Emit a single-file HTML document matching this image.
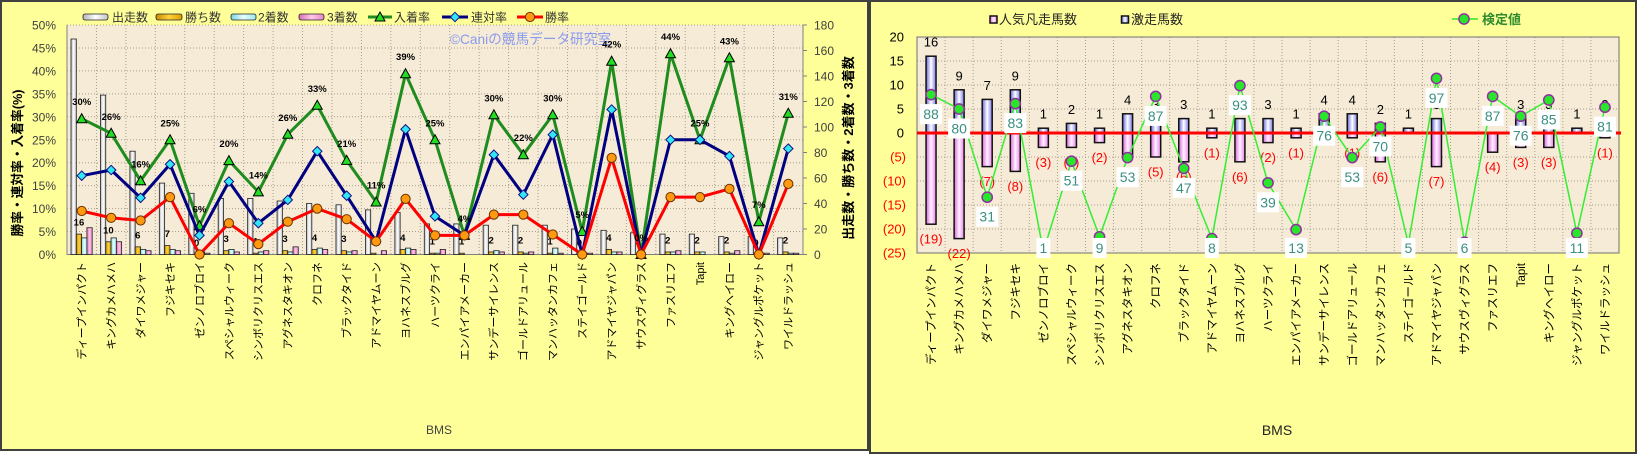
<!DOCTYPE html>
<html><head><meta charset="utf-8">
<style>
html,body{margin:0;padding:0;background:#fff;}
svg{display:block;}
text{font-family:"Liberation Sans","Noto Sans CJK JP",sans-serif;}
.yl{font-size:12px;fill:#404040;text-anchor:end;}
.yr{font-size:12px;fill:#404040;text-anchor:start;}
.lg{font-size:12px;fill:#333;}
.xl{font-size:11px;fill:#000;text-anchor:end;}
.xr{font-size:11.5px;fill:#000;text-anchor:end;}
.pl{font-size:9.5px;font-weight:bold;fill:#000;text-anchor:middle;}
.wl{font-size:9.5px;font-weight:bold;fill:#000;text-anchor:middle;}
.bw{fill:url(#gW);stroke:#222;stroke-width:.8;}
.bg{fill:url(#gG);stroke:#222;stroke-width:.8;}
.bc{fill:url(#gC);stroke:#222;stroke-width:.8;}
.bp{fill:url(#gP);stroke:#222;stroke-width:.8;}
.rb{fill:url(#gB);stroke:#111;stroke-width:1.5;}
.rm{fill:url(#gM);stroke:#111;stroke-width:1.5;}
.ry{font-size:13px;fill:#000;text-anchor:end;}
.rn{font-size:13px;fill:#ff0000;text-anchor:end;}
.pv{font-size:13px;fill:#000;text-anchor:middle;}
.nv{font-size:13px;fill:#ff0000;text-anchor:middle;}
.kb{fill:#fff;}
.kt{font-size:14px;fill:#3a8f80;text-anchor:middle;}
</style></head>
<body>
<svg width="1640" height="455" viewBox="0 0 1640 455" xmlns="http://www.w3.org/2000/svg">
<defs>
<linearGradient id="gW" x1="0" x2="1" y1="0" y2="0"><stop offset="0" stop-color="#b4b4b4"/><stop offset=".5" stop-color="#ffffff"/><stop offset="1" stop-color="#c4c4c4"/></linearGradient>
<linearGradient id="gG" x1="0" x2="1" y1="0" y2="0"><stop offset="0" stop-color="#c88a00"/><stop offset=".5" stop-color="#ffd23c"/><stop offset="1" stop-color="#dc9e00"/></linearGradient>
<linearGradient id="gC" x1="0" x2="1" y1="0" y2="0"><stop offset="0" stop-color="#78d4de"/><stop offset=".5" stop-color="#e8ffff"/><stop offset="1" stop-color="#98e6ee"/></linearGradient>
<linearGradient id="gP" x1="0" x2="1" y1="0" y2="0"><stop offset="0" stop-color="#dc6cb4"/><stop offset=".5" stop-color="#ffc8e8"/><stop offset="1" stop-color="#e886c6"/></linearGradient>
<linearGradient id="gB" x1="0" x2="1" y1="0" y2="0"><stop offset="0" stop-color="#6666dd"/><stop offset=".5" stop-color="#ffffff"/><stop offset="1" stop-color="#7878e6"/></linearGradient>
<linearGradient id="gM" x1="0" x2="1" y1="0" y2="0"><stop offset="0" stop-color="#dd66dd"/><stop offset=".5" stop-color="#fff0ff"/><stop offset="1" stop-color="#e888e8"/></linearGradient>
<marker id="mt" viewBox="0 0 12 12" refX="6" refY="6.5" markerWidth="12" markerHeight="12" markerUnits="userSpaceOnUse"><path d="M6,1.5 L11,10.5 L1,10.5Z" fill="#22dd22" stroke="#000" stroke-width="1"/></marker>
<marker id="md" viewBox="0 0 12 12" refX="6" refY="6" markerWidth="12" markerHeight="12" markerUnits="userSpaceOnUse"><path d="M6,1.3 L10.7,6 L6,10.7 L1.3,6Z" fill="#33e6f5" stroke="#101080" stroke-width="1"/></marker>
<marker id="mc" viewBox="0 0 12 12" refX="6" refY="6" markerWidth="12" markerHeight="12" markerUnits="userSpaceOnUse"><circle cx="6" cy="6" r="4.6" fill="#ff9a10" stroke="#6b3000" stroke-width="1"/></marker>
<marker id="mg" viewBox="0 0 14 14" refX="7" refY="7" markerWidth="14" markerHeight="14" markerUnits="userSpaceOnUse"><circle cx="7" cy="7" r="5.1" fill="#2ae62a" stroke="#9030a0" stroke-width="1.5"/></marker>
</defs>

<!-- ================= LEFT CHART ================= -->
<rect x="1" y="1" width="867" height="449" fill="#ffff99" stroke="#404040" stroke-width="2"/>

<!-- legend -->
<rect x="83" y="14" width="25" height="6" rx="2" class="bw" stroke-width="1"/>
<text x="112" y="21.5" class="lg">出走数</text>
<rect x="156" y="14" width="26" height="6" rx="2" class="bg"/>
<text x="185" y="21.5" class="lg">勝ち数</text>
<rect x="231" y="14" width="25" height="6" rx="2" class="bc"/>
<text x="258" y="21.5" class="lg">2着数</text>
<rect x="299" y="14" width="25" height="6" rx="2" class="bp"/>
<text x="327" y="21.5" class="lg">3着数</text>
<polyline points="368,17 380,17 392,17" fill="none" stroke="#1e8c1e" stroke-width="3" marker-mid="url(#mt)"/>
<text x="394" y="21.5" class="lg">入着率</text>
<polyline points="442,17 455,17 468,17" fill="none" stroke="#000080" stroke-width="3" marker-mid="url(#md)"/>
<text x="471" y="21.5" class="lg">連対率</text>
<polyline points="517,17 530,17 543,17" fill="none" stroke="#ff0000" stroke-width="3" marker-mid="url(#mc)"/>
<text x="545" y="21.5" class="lg">勝率</text>

<!-- plot area -->
<rect x="67" y="25" width="736" height="229.5" fill="#f5ebd6"/>
<path d="M96.44 25V254.5M125.88 25V254.5M155.32 25V254.5M184.76 25V254.5M214.2 25V254.5M243.64 25V254.5M273.08 25V254.5M302.52 25V254.5M331.96 25V254.5M361.4 25V254.5M390.84 25V254.5M420.28 25V254.5M449.72 25V254.5M479.16 25V254.5M508.6 25V254.5M538.04 25V254.5M567.48 25V254.5M596.92 25V254.5M626.36 25V254.5M655.8 25V254.5M685.24 25V254.5M714.68 25V254.5M744.12 25V254.5M773.56 25V254.5M67 25H803M67 47.95H803M67 70.9H803M67 93.85H803M67 116.8H803M67 139.75H803M67 162.7H803M67 185.65H803M67 208.6H803M67 231.55H803" stroke="#a89e8c" stroke-width="1" stroke-dasharray="1,2" fill="none"/>
<text x="450" y="44" font-size="14" fill="#8a9aee" textLength="161" lengthAdjust="spacingAndGlyphs">©Caniの競馬データ研究室</text>
<path d="M67 25V254.5H803V25M803 25h4M803 50.5h4M803 76h4M803 101.5h4M803 127h4M803 152.5h4M803 178h4M803 203.5h4M803 229h4M803 254.5h4" stroke="#808080" stroke-width="1" fill="none"/>

<!-- left y labels -->
<text x="56" y="29.5" class="yl">50%</text>
<text x="56" y="52.45" class="yl">45%</text>
<text x="56" y="75.4" class="yl">40%</text>
<text x="56" y="98.35" class="yl">35%</text>
<text x="56" y="121.3" class="yl">30%</text>
<text x="56" y="144.25" class="yl">25%</text>
<text x="56" y="167.2" class="yl">20%</text>
<text x="56" y="190.15" class="yl">15%</text>
<text x="56" y="213.1" class="yl">10%</text>
<text x="56" y="236.05" class="yl">5%</text>
<text x="56" y="259" class="yl">0%</text>
<!-- right y labels -->
<text x="814" y="29.5" class="yr">180</text>
<text x="814" y="55" class="yr">160</text>
<text x="814" y="80.5" class="yr">140</text>
<text x="814" y="106" class="yr">120</text>
<text x="814" y="131.5" class="yr">100</text>
<text x="814" y="157" class="yr">80</text>
<text x="814" y="182.5" class="yr">60</text>
<text x="814" y="208" class="yr">40</text>
<text x="814" y="233.5" class="yr">20</text>
<text x="814" y="259" class="yr">0</text>

<text transform="translate(22,163) rotate(-90)" text-anchor="middle" font-size="13" font-weight="bold" fill="#000" textLength="147" lengthAdjust="spacingAndGlyphs">勝率・連対率・入着率(%)</text>
<text transform="translate(853,148) rotate(-90)" text-anchor="middle" font-size="13" font-weight="bold" fill="#000">出走数・勝ち数・2着数・3着数</text>
<text x="439" y="434" font-size="12" fill="#444" text-anchor="middle">BMS</text>

<!-- bars -->
<g>
<rect x="71" y="39" width="5.3" height="215.5" class="bw"/><rect x="76.3" y="234.1" width="5.3" height="20.4" class="bg"/><rect x="81.6" y="237.9" width="5.3" height="16.6" class="bc"/><rect x="86.9" y="227.7" width="5.3" height="26.8" class="bp"/>
<rect x="100.44" y="95.1" width="5.3" height="159.4" class="bw"/><rect x="105.74" y="241.75" width="5.3" height="12.75" class="bg"/><rect x="111.04" y="237.9" width="5.3" height="16.6" class="bc"/><rect x="116.34" y="241.75" width="5.3" height="12.75" class="bp"/>
<rect x="129.88" y="151.2" width="5.3" height="103.3" class="bw"/><rect x="135.18" y="246.85" width="5.3" height="7.65" class="bg"/><rect x="140.48" y="249.4" width="5.3" height="5.1" class="bc"/><rect x="145.78" y="250.7" width="5.3" height="3.8" class="bp"/>
<rect x="159.32" y="183.1" width="5.3" height="71.4" class="bw"/><rect x="164.62" y="245.6" width="5.3" height="8.9" class="bg"/><rect x="169.92" y="249.4" width="5.3" height="5.1" class="bc"/><rect x="175.22" y="250.7" width="5.3" height="3.8" class="bp"/>
<rect x="188.76" y="193.3" width="5.3" height="61.2" class="bw"/><rect x="199.36" y="251.95" width="5.3" height="2.55" class="bc"/><rect x="204.66" y="253.2" width="5.3" height="1.3" class="bp"/>
<rect x="218.2" y="198.4" width="5.3" height="56.1" class="bw"/><rect x="223.5" y="250.7" width="5.3" height="3.8" class="bg"/><rect x="228.8" y="249.4" width="5.3" height="5.1" class="bc"/><rect x="234.1" y="251.95" width="5.3" height="2.55" class="bp"/>
<rect x="247.64" y="198.4" width="5.3" height="56.1" class="bw"/><rect x="252.94" y="253.2" width="5.3" height="1.3" class="bg"/><rect x="258.24" y="251.95" width="5.3" height="2.55" class="bc"/><rect x="263.54" y="250.7" width="5.3" height="3.8" class="bp"/>
<rect x="277.08" y="201" width="5.3" height="53.5" class="bw"/><rect x="282.38" y="250.7" width="5.3" height="3.8" class="bg"/><rect x="287.68" y="251.95" width="5.3" height="2.55" class="bc"/><rect x="292.98" y="246.85" width="5.3" height="7.65" class="bp"/>
<rect x="306.52" y="203.5" width="5.3" height="51" class="bw"/><rect x="311.82" y="249.4" width="5.3" height="5.1" class="bg"/><rect x="317.12" y="248.1" width="5.3" height="6.4" class="bc"/><rect x="322.42" y="249.4" width="5.3" height="5.1" class="bp"/>
<rect x="335.96" y="204.8" width="5.3" height="49.7" class="bw"/><rect x="341.26" y="250.7" width="5.3" height="3.8" class="bg"/><rect x="346.56" y="251.95" width="5.3" height="2.55" class="bc"/><rect x="351.86" y="250.7" width="5.3" height="3.8" class="bp"/>
<rect x="365.4" y="209.9" width="5.3" height="44.6" class="bw"/><rect x="370.7" y="253.2" width="5.3" height="1.3" class="bg"/><rect x="381.3" y="250.7" width="5.3" height="3.8" class="bp"/>
<rect x="394.84" y="212.4" width="5.3" height="42.1" class="bw"/><rect x="400.14" y="249.4" width="5.3" height="5.1" class="bg"/><rect x="405.44" y="248.1" width="5.3" height="6.4" class="bc"/><rect x="410.74" y="249.4" width="5.3" height="5.1" class="bp"/>
<rect x="424.28" y="223.9" width="5.3" height="30.6" class="bw"/><rect x="429.58" y="253.2" width="5.3" height="1.3" class="bg"/><rect x="434.88" y="253.2" width="5.3" height="1.3" class="bc"/><rect x="440.18" y="249.4" width="5.3" height="5.1" class="bp"/>
<rect x="453.72" y="223.9" width="5.3" height="30.6" class="bw"/><rect x="459.02" y="253.2" width="5.3" height="1.3" class="bg"/>
<rect x="483.16" y="225.2" width="5.3" height="29.3" class="bw"/><rect x="488.46" y="251.95" width="5.3" height="2.55" class="bg"/><rect x="493.76" y="250.7" width="5.3" height="3.8" class="bc"/><rect x="499.06" y="251.95" width="5.3" height="2.55" class="bp"/>
<rect x="512.6" y="225.2" width="5.3" height="29.3" class="bw"/><rect x="517.9" y="251.95" width="5.3" height="2.55" class="bg"/><rect x="523.2" y="253.2" width="5.3" height="1.3" class="bc"/><rect x="528.5" y="251.95" width="5.3" height="2.55" class="bp"/>
<rect x="542.04" y="225.2" width="5.3" height="29.3" class="bw"/><rect x="547.34" y="253.2" width="5.3" height="1.3" class="bg"/><rect x="552.64" y="248.1" width="5.3" height="6.4" class="bc"/><rect x="557.94" y="253.2" width="5.3" height="1.3" class="bp"/>
<rect x="571.48" y="229" width="5.3" height="25.5" class="bw"/><rect x="587.38" y="253.2" width="5.3" height="1.3" class="bp"/>
<rect x="600.92" y="230.3" width="5.3" height="24.2" class="bw"/><rect x="606.22" y="249.4" width="5.3" height="5.1" class="bg"/><rect x="611.52" y="251.95" width="5.3" height="2.55" class="bc"/><rect x="616.82" y="251.95" width="5.3" height="2.55" class="bp"/>
<rect x="630.36" y="232.8" width="5.3" height="21.7" class="bw"/>
<rect x="659.8" y="234.1" width="5.3" height="20.4" class="bw"/><rect x="665.1" y="251.95" width="5.3" height="2.55" class="bg"/><rect x="670.4" y="251.95" width="5.3" height="2.55" class="bc"/><rect x="675.7" y="250.7" width="5.3" height="3.8" class="bp"/>
<rect x="689.24" y="234.1" width="5.3" height="20.4" class="bw"/><rect x="694.54" y="251.95" width="5.3" height="2.55" class="bg"/><rect x="699.84" y="251.95" width="5.3" height="2.55" class="bc"/>
<rect x="718.68" y="236.65" width="5.3" height="17.85" class="bw"/><rect x="723.98" y="251.95" width="5.3" height="2.55" class="bg"/><rect x="729.28" y="253.2" width="5.3" height="1.3" class="bc"/><rect x="734.58" y="250.7" width="5.3" height="3.8" class="bp"/>
<rect x="748.12" y="236.65" width="5.3" height="17.85" class="bw"/><rect x="764.02" y="253.2" width="5.3" height="1.3" class="bp"/>
<rect x="777.56" y="237.9" width="5.3" height="16.6" class="bw"/><rect x="782.86" y="251.95" width="5.3" height="2.55" class="bg"/><rect x="788.16" y="253.2" width="5.3" height="1.3" class="bc"/><rect x="793.46" y="253.2" width="5.3" height="1.3" class="bp"/>
</g>

<!-- win-count labels -->
<g class="wl">
<text x="78.95" y="225.6" class="wl">16</text><text x="108.39" y="233.25" class="wl">10</text><text x="137.83" y="238.35" class="wl">6</text><text x="167.27" y="237.1" class="wl">7</text><text x="196.71" y="246" class="wl">0</text><text x="226.15" y="242.2" class="wl">3</text><text x="255.59" y="244.7" class="wl">1</text><text x="285.03" y="242.2" class="wl">3</text><text x="314.47" y="240.9" class="wl">4</text><text x="343.91" y="242.2" class="wl">3</text><text x="373.35" y="244.7" class="wl">1</text><text x="402.79" y="240.9" class="wl">4</text><text x="432.23" y="244.7" class="wl">1</text><text x="461.67" y="244.7" class="wl">1</text><text x="491.11" y="243.45" class="wl">2</text><text x="520.55" y="243.45" class="wl">2</text><text x="549.99" y="244.7" class="wl">1</text><text x="579.43" y="246" class="wl">0</text><text x="608.87" y="240.9" class="wl">4</text><text x="638.31" y="246" class="wl">0</text><text x="667.75" y="243.45" class="wl">2</text><text x="697.19" y="243.45" class="wl">2</text><text x="726.63" y="243.45" class="wl">2</text><text x="756.07" y="246" class="wl">0</text><text x="785.51" y="243.45" class="wl">2</text>
</g>

<!-- lines -->
<polyline fill="none" stroke="#1e8c1e" stroke-width="3" stroke-linejoin="round" marker-start="url(#mt)" marker-mid="url(#mt)" marker-end="url(#mt)" points="81.72,118.7 111.16,133.3 140.6,180.8 170.04,139.8 199.48,225.8 228.92,160.6 258.36,191.9 287.8,134.3 317.24,105.3 346.68,160.4 376.12,202 405.56,73.7 435,139.8 464.44,235.4 493.88,114.8 523.32,154.7 552.76,114.8 582.2,231.55 611.64,61.2 641.08,254.5 670.52,53.7 699.96,139.8 729.4,57.8 758.84,221.7 788.28,113.3"/>
<polyline fill="none" stroke="#000080" stroke-width="3" stroke-linejoin="round" marker-start="url(#md)" marker-mid="url(#md)" marker-end="url(#md)" points="81.72,175.7 111.16,170 140.6,197.8 170.04,164.3 199.48,235.4 228.92,181.5 258.36,223.2 287.8,199.9 317.24,151.2 346.68,195.7 376.12,241.4 405.56,129.3 435,216.3 464.44,235.4 493.88,154.7 523.32,194.6 552.76,134.7 582.2,254.5 611.64,109.5 641.08,254.5 670.52,139.8 699.96,139.8 729.4,156.1 758.84,254.5 788.28,148.6"/>
<polyline fill="none" stroke="#ff0000" stroke-width="3" stroke-linejoin="round" marker-start="url(#mc)" marker-mid="url(#mc)" marker-end="url(#mc)" points="81.72,211 111.16,217.8 140.6,220.5 170.04,197.1 199.48,254.5 228.92,223.2 258.36,244.1 287.8,221.7 317.24,208.6 346.68,219.2 376.12,241.4 405.56,198.9 435,235.4 464.44,235.4 493.88,214.6 523.32,214.6 552.76,234.5 582.2,254.5 611.64,157.9 641.08,254.5 670.52,197.1 699.96,197.1 729.4,188.9 758.84,254.5 788.28,183.9"/>

<!-- percent labels -->
<g>
<text x="81.72" y="105.2" class="pl">30%</text><text x="111.16" y="119.8" class="pl">26%</text><text x="140.6" y="167.3" class="pl">16%</text><text x="170.04" y="126.3" class="pl">25%</text><text x="199.48" y="212.3" class="pl">6%</text><text x="228.92" y="147.1" class="pl">20%</text><text x="258.36" y="178.4" class="pl">14%</text><text x="287.8" y="120.8" class="pl">26%</text><text x="317.24" y="91.8" class="pl">33%</text><text x="346.68" y="146.9" class="pl">21%</text><text x="376.12" y="188.5" class="pl">11%</text><text x="405.56" y="60.2" class="pl">39%</text><text x="435" y="126.3" class="pl">25%</text><text x="464.44" y="221.9" class="pl">4%</text><text x="493.88" y="101.3" class="pl">30%</text><text x="523.32" y="141.2" class="pl">22%</text><text x="552.76" y="101.3" class="pl">30%</text><text x="582.2" y="218.05" class="pl">5%</text><text x="611.64" y="47.7" class="pl">42%</text><text x="641.08" y="241" class="pl">0%</text><text x="670.52" y="40.2" class="pl">44%</text><text x="699.96" y="126.3" class="pl">25%</text><text x="729.4" y="44.3" class="pl">43%</text><text x="758.84" y="208.2" class="pl">7%</text><text x="788.28" y="99.8" class="pl">31%</text>
</g>

<!-- x labels left -->
<g>
<text transform="translate(81.72,262) rotate(-90)" dy="0.35em" class="xl">ディープインパクト</text>
<text transform="translate(111.16,262) rotate(-90)" dy="0.35em" class="xl">キングカメハメハ</text>
<text transform="translate(140.6,262) rotate(-90)" dy="0.35em" class="xl">ダイワメジャー</text>
<text transform="translate(170.04,262) rotate(-90)" dy="0.35em" class="xl">フジキセキ</text>
<text transform="translate(199.48,262) rotate(-90)" dy="0.35em" class="xl">ゼンノロブロイ</text>
<text transform="translate(228.92,262) rotate(-90)" dy="0.35em" class="xl">スペシャルウィーク</text>
<text transform="translate(258.36,262) rotate(-90)" dy="0.35em" class="xl">シンボリクリスエス</text>
<text transform="translate(287.8,262) rotate(-90)" dy="0.35em" class="xl">アグネスタキオン</text>
<text transform="translate(317.24,262) rotate(-90)" dy="0.35em" class="xl">クロフネ</text>
<text transform="translate(346.68,262) rotate(-90)" dy="0.35em" class="xl">ブラックタイド</text>
<text transform="translate(376.12,262) rotate(-90)" dy="0.35em" class="xl">アドマイヤムーン</text>
<text transform="translate(405.56,262) rotate(-90)" dy="0.35em" class="xl">ヨハネスブルグ</text>
<text transform="translate(435,262) rotate(-90)" dy="0.35em" class="xl">ハーツクライ</text>
<text transform="translate(464.44,262) rotate(-90)" dy="0.35em" class="xl">エンパイアメーカー</text>
<text transform="translate(493.88,262) rotate(-90)" dy="0.35em" class="xl">サンデーサイレンス</text>
<text transform="translate(523.32,262) rotate(-90)" dy="0.35em" class="xl">ゴールドアリュール</text>
<text transform="translate(552.76,262) rotate(-90)" dy="0.35em" class="xl">マンハッタンカフェ</text>
<text transform="translate(582.2,262) rotate(-90)" dy="0.35em" class="xl">ステイゴールド</text>
<text transform="translate(611.64,262) rotate(-90)" dy="0.35em" class="xl">アドマイヤジャパン</text>
<text transform="translate(641.08,262) rotate(-90)" dy="0.35em" class="xl">サウスヴィグラス</text>
<text transform="translate(670.52,262) rotate(-90)" dy="0.35em" class="xl">ファスリエフ</text>
<text transform="translate(699.96,262) rotate(-90)" dy="0.35em" class="xl">Tapit</text>
<text transform="translate(729.4,262) rotate(-90)" dy="0.35em" class="xl">キングヘイロー</text>
<text transform="translate(758.84,262) rotate(-90)" dy="0.35em" class="xl">ジャングルポケット</text>
<text transform="translate(788.28,262) rotate(-90)" dy="0.35em" class="xl">ワイルドラッシュ</text>
</g>

<!-- ================= RIGHT CHART ================= -->
<rect x="870" y="1" width="766" height="452" fill="#ffff99" stroke="#404040" stroke-width="2"/>

<!-- legend -->
<rect x="990" y="16" width="7" height="7" class="rm" stroke-width="1"/>
<text x="999" y="24" font-size="13" fill="#222">人気凡走馬数</text>
<rect x="1121.5" y="16" width="7" height="7" class="rb" stroke-width="1"/>
<text x="1131" y="24" font-size="13" fill="#222">激走馬数</text>
<polyline points="1452,19 1464,19 1478,19" fill="none" stroke="#2ae62a" stroke-width="1.5" marker-mid="url(#mg)"/>
<text x="1482" y="24" font-size="13" font-weight="bold" fill="#2e8b2e">検定値</text>

<!-- plot -->
<rect x="917" y="37" width="702" height="216" fill="#f5ebd6"/>
<path d="M945.08 37V253M973.16 37V253M1001.24 37V253M1029.32 37V253M1057.4 37V253M1085.48 37V253M1113.56 37V253M1141.64 37V253M1169.72 37V253M1197.8 37V253M1225.88 37V253M1253.96 37V253M1282.04 37V253M1310.12 37V253M1338.2 37V253M1366.28 37V253M1394.36 37V253M1422.44 37V253M1450.52 37V253M1478.6 37V253M1506.68 37V253M1534.76 37V253M1562.84 37V253M1590.92 37V253M917 61H1619M917 85H1619M917 109H1619M917 157H1619M917 181H1619M917 205H1619M917 229H1619" stroke="#a89e8c" stroke-width="1" stroke-dasharray="1,2" fill="none"/>
<rect x="917" y="37" width="702" height="216" fill="none" stroke="#707070" stroke-width="1"/>

<!-- y labels -->
<text x="904" y="41.5" class="ry">20</text>
<text x="904" y="65.5" class="ry">15</text>
<text x="904" y="89.5" class="ry">10</text>
<text x="904" y="113.5" class="ry">5</text>
<text x="904" y="137.5" class="ry">0</text>
<text x="906" y="161.5" class="rn">(5)</text>
<text x="906" y="185.5" class="rn">(10)</text>
<text x="906" y="209.5" class="rn">(15)</text>
<text x="906" y="233.5" class="rn">(20)</text>
<text x="906" y="257.5" class="rn">(25)</text>

<!-- bars -->
<g>
<rect x="926.04" y="56.2" width="10" height="76.8" class="rb"/><rect x="926.04" y="133" width="10" height="91.2" class="rm"/>
<rect x="954.12" y="89.8" width="10" height="43.2" class="rb"/><rect x="954.12" y="133" width="10" height="105.6" class="rm"/>
<rect x="982.2" y="99.4" width="10" height="33.6" class="rb"/><rect x="982.2" y="133" width="10" height="33.6" class="rm"/>
<rect x="1010.28" y="89.8" width="10" height="43.2" class="rb"/><rect x="1010.28" y="133" width="10" height="38.4" class="rm"/>
<rect x="1038.36" y="128.2" width="10" height="4.8" class="rb"/><rect x="1038.36" y="133" width="10" height="14.4" class="rm"/>
<rect x="1066.44" y="123.4" width="10" height="9.6" class="rb"/><rect x="1066.44" y="133" width="10" height="14.4" class="rm"/>
<rect x="1094.52" y="128.2" width="10" height="4.8" class="rb"/><rect x="1094.52" y="133" width="10" height="9.6" class="rm"/>
<rect x="1122.6" y="113.8" width="10" height="19.2" class="rb"/><rect x="1122.6" y="133" width="10" height="24" class="rm"/>
<rect x="1150.68" y="118.6" width="10" height="14.4" class="rb"/><rect x="1150.68" y="133" width="10" height="24" class="rm"/>
<rect x="1178.76" y="118.6" width="10" height="14.4" class="rb"/><rect x="1178.76" y="133" width="10" height="28.8" class="rm"/>
<rect x="1206.84" y="128.2" width="10" height="4.8" class="rb"/><rect x="1206.84" y="133" width="10" height="4.8" class="rm"/>
<rect x="1234.92" y="118.6" width="10" height="14.4" class="rb"/><rect x="1234.92" y="133" width="10" height="28.8" class="rm"/>
<rect x="1263" y="118.6" width="10" height="14.4" class="rb"/><rect x="1263" y="133" width="10" height="9.6" class="rm"/>
<rect x="1291.08" y="128.2" width="10" height="4.8" class="rb"/><rect x="1291.08" y="133" width="10" height="4.8" class="rm"/>
<rect x="1319.16" y="113.8" width="10" height="19.2" class="rb"/>
<rect x="1347.24" y="113.8" width="10" height="19.2" class="rb"/><rect x="1347.24" y="133" width="10" height="4.8" class="rm"/>
<rect x="1375.32" y="123.4" width="10" height="9.6" class="rb"/><rect x="1375.32" y="133" width="10" height="28.8" class="rm"/>
<rect x="1403.4" y="128.2" width="10" height="4.8" class="rb"/>
<rect x="1431.48" y="118.6" width="10" height="14.4" class="rb"/><rect x="1431.48" y="133" width="10" height="33.6" class="rm"/>
<rect x="1487.64" y="133" width="10" height="19.2" class="rm"/>
<rect x="1515.72" y="118.6" width="10" height="14.4" class="rb"/><rect x="1515.72" y="133" width="10" height="14.4" class="rm"/>
<rect x="1543.8" y="118.6" width="10" height="14.4" class="rb"/><rect x="1543.8" y="133" width="10" height="14.4" class="rm"/>
<rect x="1571.88" y="128.2" width="10" height="4.8" class="rb"/>
<rect x="1599.96" y="118.6" width="10" height="14.4" class="rb"/><rect x="1599.96" y="133" width="10" height="4.8" class="rm"/>
</g>
<line x1="917" y1="133" x2="1621" y2="133" stroke="#ff0000" stroke-width="3"/>

<!-- bar value labels -->
<g>
<text x="931.04" y="46.7" class="pv">16</text><text x="931.04" y="243.7" class="nv">(19)</text>
<text x="959.12" y="80.3" class="pv">9</text><text x="959.12" y="258.1" class="nv">(22)</text>
<text x="987.2" y="89.9" class="pv">7</text><text x="987.2" y="186.1" class="nv">(7)</text>
<text x="1015.28" y="80.3" class="pv">9</text><text x="1015.28" y="190.9" class="nv">(8)</text>
<text x="1043.36" y="118.7" class="pv">1</text><text x="1043.36" y="166.9" class="nv">(3)</text>
<text x="1071.44" y="113.9" class="pv">2</text><text x="1071.44" y="166.9" class="nv">(3)</text>
<text x="1099.52" y="118.7" class="pv">1</text><text x="1099.52" y="162.1" class="nv">(2)</text>
<text x="1127.6" y="104.3" class="pv">4</text><text x="1127.6" y="176.5" class="nv">(5)</text>
<text x="1155.68" y="109.1" class="pv">3</text><text x="1155.68" y="176.5" class="nv">(5)</text>
<text x="1183.76" y="109.1" class="pv">3</text><text x="1183.76" y="181.3" class="nv">(6)</text>
<text x="1211.84" y="118.7" class="pv">1</text><text x="1211.84" y="157.3" class="nv">(1)</text>
<text x="1239.92" y="109.1" class="pv">3</text><text x="1239.92" y="181.3" class="nv">(6)</text>
<text x="1268" y="109.1" class="pv">3</text><text x="1268" y="162.1" class="nv">(2)</text>
<text x="1296.08" y="118.7" class="pv">1</text><text x="1296.08" y="157.3" class="nv">(1)</text>
<text x="1324.16" y="104.3" class="pv">4</text>
<text x="1352.24" y="104.3" class="pv">4</text><text x="1352.24" y="157.3" class="nv">(1)</text>
<text x="1380.32" y="113.9" class="pv">2</text><text x="1380.32" y="181.3" class="nv">(6)</text>
<text x="1408.4" y="118.7" class="pv">1</text>
<text x="1436.48" y="109.1" class="pv">3</text><text x="1436.48" y="186.1" class="nv">(7)</text>
<text x="1492.64" y="171.7" class="nv">(4)</text>
<text x="1520.72" y="109.1" class="pv">3</text><text x="1520.72" y="166.9" class="nv">(3)</text>
<text x="1548.8" y="109.1" class="pv">3</text><text x="1548.8" y="166.9" class="nv">(3)</text>
<text x="1576.88" y="118.7" class="pv">1</text>
<text x="1604.96" y="109.1" class="pv">3</text><text x="1604.96" y="157.3" class="nv">(1)</text>
</g>

<!-- kentei line -->
<polyline fill="none" stroke="#33ee33" stroke-width="1.5" stroke-linejoin="round" marker-start="url(#mg)" marker-mid="url(#mg)" marker-end="url(#mg)" points="931.04,94.6 959.12,109 987.2,197.2 1015.28,103.6 1043.36,251.2 1071.44,161.2 1099.52,236.8 1127.6,157.6 1155.68,96.4 1183.76,168.4 1211.84,238.6 1239.92,85.6 1268,182.8 1296.08,229.6 1324.16,116.2 1352.24,157.6 1380.32,127 1408.4,244 1436.48,78.4 1464.56,242.2 1492.64,96.4 1520.72,116.2 1548.8,100 1576.88,233.2 1604.96,107.2"/>

<!-- kentei labels -->
<g>
<rect x="920.04" y="104.1" width="22" height="20" class="kb"/><text x="931.04" y="119.1" class="kt">88</text>
<rect x="948.12" y="118.5" width="22" height="20" class="kb"/><text x="959.12" y="133.5" class="kt">80</text>
<rect x="976.2" y="206.7" width="22" height="20" class="kb"/><text x="987.2" y="221.7" class="kt">31</text>
<rect x="1004.28" y="113.1" width="22" height="20" class="kb"/><text x="1015.28" y="128.1" class="kt">83</text>
<rect x="1036.36" y="238" width="14" height="20" class="kb"/><text x="1043.36" y="253" class="kt">1</text>
<rect x="1060.44" y="170.7" width="22" height="20" class="kb"/><text x="1071.44" y="185.7" class="kt">51</text>
<rect x="1092.52" y="238" width="14" height="20" class="kb"/><text x="1099.52" y="253" class="kt">9</text>
<rect x="1116.6" y="167.1" width="22" height="20" class="kb"/><text x="1127.6" y="182.1" class="kt">53</text>
<rect x="1144.68" y="105.9" width="22" height="20" class="kb"/><text x="1155.68" y="120.9" class="kt">87</text>
<rect x="1172.76" y="177.9" width="22" height="20" class="kb"/><text x="1183.76" y="192.9" class="kt">47</text>
<rect x="1204.84" y="238" width="14" height="20" class="kb"/><text x="1211.84" y="253" class="kt">8</text>
<rect x="1228.92" y="95.1" width="22" height="20" class="kb"/><text x="1239.92" y="110.1" class="kt">93</text>
<rect x="1257" y="192.3" width="22" height="20" class="kb"/><text x="1268" y="207.3" class="kt">39</text>
<rect x="1285.08" y="238" width="22" height="20" class="kb"/><text x="1296.08" y="253" class="kt">13</text>
<rect x="1313.16" y="125.7" width="22" height="20" class="kb"/><text x="1324.16" y="140.7" class="kt">76</text>
<rect x="1341.24" y="167.1" width="22" height="20" class="kb"/><text x="1352.24" y="182.1" class="kt">53</text>
<rect x="1369.32" y="136.5" width="22" height="20" class="kb"/><text x="1380.32" y="151.5" class="kt">70</text>
<rect x="1401.4" y="238" width="14" height="20" class="kb"/><text x="1408.4" y="253" class="kt">5</text>
<rect x="1425.48" y="87.9" width="22" height="20" class="kb"/><text x="1436.48" y="102.9" class="kt">97</text>
<rect x="1457.56" y="238" width="14" height="20" class="kb"/><text x="1464.56" y="253" class="kt">6</text>
<rect x="1481.64" y="105.9" width="22" height="20" class="kb"/><text x="1492.64" y="120.9" class="kt">87</text>
<rect x="1509.72" y="125.7" width="22" height="20" class="kb"/><text x="1520.72" y="140.7" class="kt">76</text>
<rect x="1537.8" y="109.5" width="22" height="20" class="kb"/><text x="1548.8" y="124.5" class="kt">85</text>
<rect x="1565.88" y="238" width="22" height="20" class="kb"/><text x="1576.88" y="253" class="kt">11</text>
<rect x="1593.96" y="116.7" width="22" height="20" class="kb"/><text x="1604.96" y="131.7" class="kt">81</text>
</g>

<!-- x labels right -->
<g>
<text transform="translate(931.04,263) rotate(-90)" dy="0.35em" class="xr">ディープインパクト</text>
<text transform="translate(959.12,263) rotate(-90)" dy="0.35em" class="xr">キングカメハメハ</text>
<text transform="translate(987.2,263) rotate(-90)" dy="0.35em" class="xr">ダイワメジャー</text>
<text transform="translate(1015.28,263) rotate(-90)" dy="0.35em" class="xr">フジキセキ</text>
<text transform="translate(1043.36,263) rotate(-90)" dy="0.35em" class="xr">ゼンノロブロイ</text>
<text transform="translate(1071.44,263) rotate(-90)" dy="0.35em" class="xr">スペシャルウィーク</text>
<text transform="translate(1099.52,263) rotate(-90)" dy="0.35em" class="xr">シンボリクリスエス</text>
<text transform="translate(1127.6,263) rotate(-90)" dy="0.35em" class="xr">アグネスタキオン</text>
<text transform="translate(1155.68,263) rotate(-90)" dy="0.35em" class="xr">クロフネ</text>
<text transform="translate(1183.76,263) rotate(-90)" dy="0.35em" class="xr">ブラックタイド</text>
<text transform="translate(1211.84,263) rotate(-90)" dy="0.35em" class="xr">アドマイヤムーン</text>
<text transform="translate(1239.92,263) rotate(-90)" dy="0.35em" class="xr">ヨハネスブルグ</text>
<text transform="translate(1268,263) rotate(-90)" dy="0.35em" class="xr">ハーツクライ</text>
<text transform="translate(1296.08,263) rotate(-90)" dy="0.35em" class="xr">エンパイアメーカー</text>
<text transform="translate(1324.16,263) rotate(-90)" dy="0.35em" class="xr">サンデーサイレンス</text>
<text transform="translate(1352.24,263) rotate(-90)" dy="0.35em" class="xr">ゴールドアリュール</text>
<text transform="translate(1380.32,263) rotate(-90)" dy="0.35em" class="xr">マンハッタンカフェ</text>
<text transform="translate(1408.4,263) rotate(-90)" dy="0.35em" class="xr">ステイゴールド</text>
<text transform="translate(1436.48,263) rotate(-90)" dy="0.35em" class="xr">アドマイヤジャパン</text>
<text transform="translate(1464.56,263) rotate(-90)" dy="0.35em" class="xr">サウスヴィグラス</text>
<text transform="translate(1492.64,263) rotate(-90)" dy="0.35em" class="xr">ファスリエフ</text>
<text transform="translate(1520.72,263) rotate(-90)" dy="0.35em" class="xr">Tapit</text>
<text transform="translate(1548.8,263) rotate(-90)" dy="0.35em" class="xr">キングヘイロー</text>
<text transform="translate(1576.88,263) rotate(-90)" dy="0.35em" class="xr">ジャングルポケット</text>
<text transform="translate(1604.96,263) rotate(-90)" dy="0.35em" class="xr">ワイルドラッシュ</text>
</g>
<text x="1277" y="435" font-size="14" fill="#222" text-anchor="middle">BMS</text>
</svg>
</body></html>
